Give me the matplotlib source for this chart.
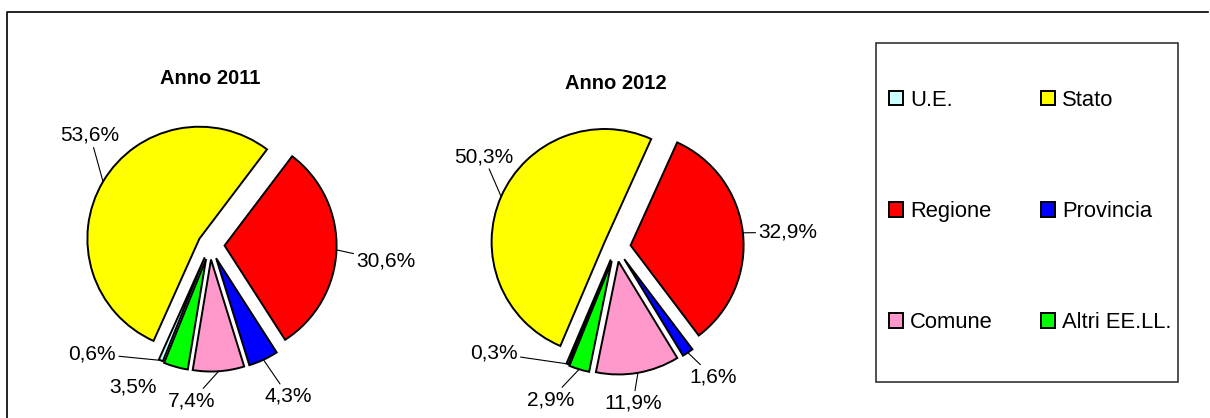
import numpy as np
import matplotlib
matplotlib.use('Agg')
from matplotlib import pyplot as plt
from matplotlib.patches import Rectangle
from matplotlib.lines import Line2D

plt.rcParams['font.family'] = ['Liberation Sans', 'DejaVu Sans']

# Data
categories = ['U.E.', 'Stato', 'Regione', 'Provincia', 'Comune', 'Altri EE.LL.']
colors = ['#CCFFFF', '#FFFF00', '#FF0000', '#0000FF', '#FF99CC', '#00FF00']
years = ['Anno 2011', 'Anno 2012']
values_2011 = [0.6, 53.6, 30.6, 4.3, 7.4, 3.5]
values_2012 = [0.3, 50.3, 32.9, 1.6, 11.9, 2.9]

# Layout (pixels on a 1210x418 canvas)
W, H = 1210, 418
pies = [
    # centre x, centre y, radius, title height, label positions (in radii), leader on/off
    dict(values=values_2011, cx=210, cy=245, r=112, title_y=1.49,
         label_pos=[(-1.05, -0.97), (-1.07, 0.98), (1.57, -0.14),
                    (0.70, -1.35), (-0.16, -1.39), (-0.69, -1.27)],
         leader=[True, True, True, True, True, False]),
    dict(values=values_2012, cx=616, cy=247, r=113, title_y=1.45,
         label_pos=[(-1.08, -0.94), (-1.17, 0.80), (1.52, 0.13),
                    (0.86, -1.15), (0.15, -1.38), (-0.58, -1.35)],
         leader=[True, True, True, True, True, True]),
]
explode = [0.12, 0.11, 0.13, 0.13, 0.13, 0.13]

fig = plt.figure(figsize=(W / 100, H / 100), dpi=100)

half = 1.9
wedges = None
for p, year in zip(pies, years):
    r = p['r']
    ax = fig.add_axes([(p['cx'] - half * r) / W, (H - p['cy'] - half * r) / H,
                       2 * half * r / W, 2 * half * r / H])
    wedges, _ = ax.pie(p['values'], colors=colors, explode=explode,
                       startangle=90 - 202, counterclock=False, radius=1,
                       wedgeprops=dict(edgecolor='black', linewidth=1.4))
    ax.set_xlim(-half, half)
    ax.set_ylim(-half, half)
    ax.axis('off')
    ax.text(0, p['title_y'], year, ha='center', va='center',
            fontsize=14.5, fontweight='bold')

    # data labels with leader lines
    for w, v, pos, lead in zip(wedges, p['values'], p['label_pos'], p['leader']):
        mid = np.deg2rad((w.theta1 + w.theta2) / 2)
        cx, cy = w.center
        pt = (cx + w.r * np.cos(mid), cy + w.r * np.sin(mid))
        label = f'{v:.1f}%'.replace('.', ',')
        ax.annotate(label, xy=pt, xytext=pos, ha='center', va='center',
                    fontsize=15, annotation_clip=False,
                    arrowprops=dict(arrowstyle='-', color='black', lw=0.8,
                                    shrinkA=0, shrinkB=0) if lead else None)

# Legend, filled row by row
order = [0, 2, 4, 1, 3, 5]
fig.legend([wedges[i] for i in order], [categories[i] for i in order],
           ncol=2, loc='center', bbox_to_anchor=(1030 / W, 1 - 211.5 / H),
           frameon=False, fontsize=15.8, borderpad=0,
           handlelength=0.64, handleheight=0.64, handletextpad=0.32,
           labelspacing=4.12, columnspacing=2.2)

# Legend frame
fig.patches.append(Rectangle((876 / W, 1 - 382 / H), 302 / W, 339 / H,
                             transform=fig.transFigure, fill=False,
                             edgecolor='#333333', linewidth=1.2))

# Outer chart border (top and left visible)
fig.lines.append(Line2D([7 / W, 7 / W, 1208 / W], [0, 1 - 12 / H, 1 - 12 / H],
                        transform=fig.transFigure, color='black', linewidth=1.2))

fig.savefig('out.png', dpi=100)
